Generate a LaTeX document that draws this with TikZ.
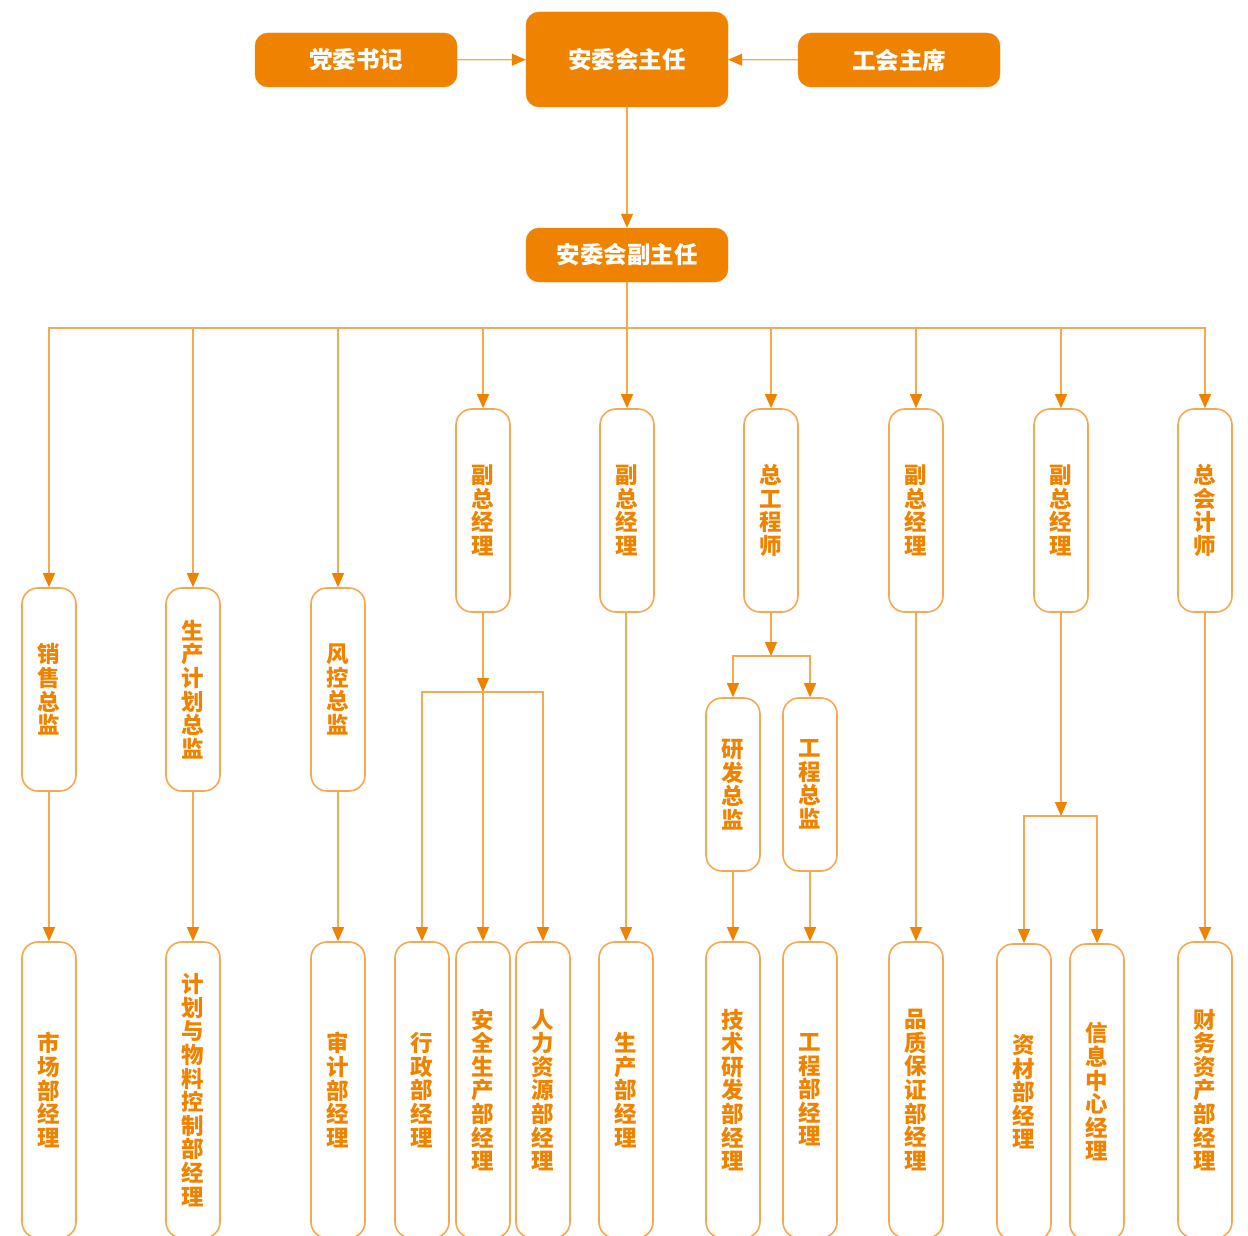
\documentclass[tikz,border=0pt]{standalone}
\usepackage{fontspec}
\newfontfamily\cjk{Noto Sans CJK SC}
\usetikzlibrary{arrows.meta}
\definecolor{ora}{RGB}{239,131,0}
\definecolor{oraline}{RGB}{245,168,80}
\begin{document}
\begin{tikzpicture}[x=1pt,y=-1pt,
   head/.style={draw=ora,fill=ora,text=white,rounded corners=13pt,minimum width=202pt,minimum height=54pt,font=\cjk\bfseries\fontsize{23.5}{27}\selectfont},
   post/.style={draw=oraline,line width=1.6pt,rounded corners=16pt,minimum width=54pt,inner sep=0pt,align=center,text=ora,font=\cjk\bfseries\fontsize{22.5}{23.6}\selectfont},
   top/.style={post,minimum height=203pt},
   low/.style={post,minimum height=296pt},
   to/.style={draw=oraline,line width=1.3pt,-{Triangle[width=12pt,length=14pt,color=ora]}},
   link/.style={draw=oraline,line width=1.3pt}]
\useasboundingbox (0,0) rectangle (1248,1236);
\clip (0,0) rectangle (1248,1236);
% committee
\node[head] (sj) at (356,60) {党委书记};
\node[head,minimum height=95pt] (zr) at (627,59.5) {安委会主任};
\node[head] (gh) at (899,60) {工会主席};
\node[head] (fzr) at (627,255) {安委会副主任};
% heads
\node[top] (xs) at (49,689.5) {销\\售\\总\\监};
\node[top] (jh) at (193,689.5) {生\\产\\计\\划\\总\\监};
\node[top] (fk) at (338,689.5) {风\\控\\总\\监};
\node[top] (fz1) at (483,510.5) {副\\总\\经\\理};
\node[top] (fz2) at (627,510.5) {副\\总\\经\\理};
\node[top] (zg) at (771,510.5) {总\\工\\程\\师};
\node[top] (fz3) at (916,510.5) {副\\总\\经\\理};
\node[top] (fz4) at (1061,510.5) {副\\总\\经\\理};
\node[top] (kj) at (1205,510.5) {总\\会\\计\\师};
\node[post,minimum height=173pt] (yf) at (733,784.5) {研\\发\\总\\监};
\node[post,minimum height=173pt] (gc) at (810,784.5) {工\\程\\总\\监};
% departments
\node[low] (sc) at (49,1090) {市\\场\\部\\经\\理};
\node[low] (wl) at (193,1090) {计\\划\\与\\物\\料\\控\\制\\部\\经\\理};
\node[low] (sjb) at (338,1090) {审\\计\\部\\经\\理};
\node[low] (xz) at (422,1090) {行\\政\\部\\经\\理};
\node[low] (aq) at (483,1090) {安\\全\\生\\产\\部\\经\\理};
\node[low] (rl) at (543,1090) {人\\力\\资\\源\\部\\经\\理};
\node[low] (scb) at (626,1090) {生\\产\\部\\经\\理};
\node[low] (js) at (733,1090) {技\\术\\研\\发\\部\\经\\理};
\node[low] (gcb) at (810,1090) {工\\程\\部\\经\\理};
\node[low] (pz) at (916,1090) {品\\质\\保\\证\\部\\经\\理};
\node[low] (zc) at (1024,1092) {资\\材\\部\\经\\理};
\node[low] (xx) at (1097,1092) {信\\息\\中\\心\\经\\理};
\node[low] (cw) at (1205,1090) {财\\务\\资\\产\\部\\经\\理};
\coordinate (bus) at (627,328);
\coordinate (j1) at (483,692);
\coordinate (j2) at (771,656);
\coordinate (j3) at (1061,816);
% top arrows
\draw[to] (sj) -- (zr);
\draw[to] (gh) -- (zr);
\draw[to] (zr) -- (fzr);
\draw[link] (fzr) -- (bus);
\foreach \n in {xs,jh,fk,fz1,zg,fz3,fz4,kj}
  \draw[to] (bus) -| (\n.north);
\draw[to] (bus) -- (fz2);
% lower arrows
\draw[to] (fz1) -- (j1);
\draw[to] (j1) -| (xz.north);
\draw[to] (j1) -- (aq);
\draw[to] (j1) -| (rl.north);
\draw[to] (zg) -- (j2);
\draw[to] (j2) -| (yf.north);
\draw[to] (j2) -| (gc.north);
\draw[to] (fz4) -- (j3);
\draw[to] (j3) -| (zc.north);
\draw[to] (j3) -| (xx.north);
\draw[to] (xs) -- (sc);
\draw[to] (jh) -- (wl);
\draw[to] (fk) -- (sjb);
\draw[to] (fz2.south -| scb) -- (scb);
\draw[to] (yf) -- (js);
\draw[to] (gc) -- (gcb);
\draw[to] (fz3) -- (pz);
\draw[to] (kj) -- (cw);
\end{tikzpicture}
\end{document}
